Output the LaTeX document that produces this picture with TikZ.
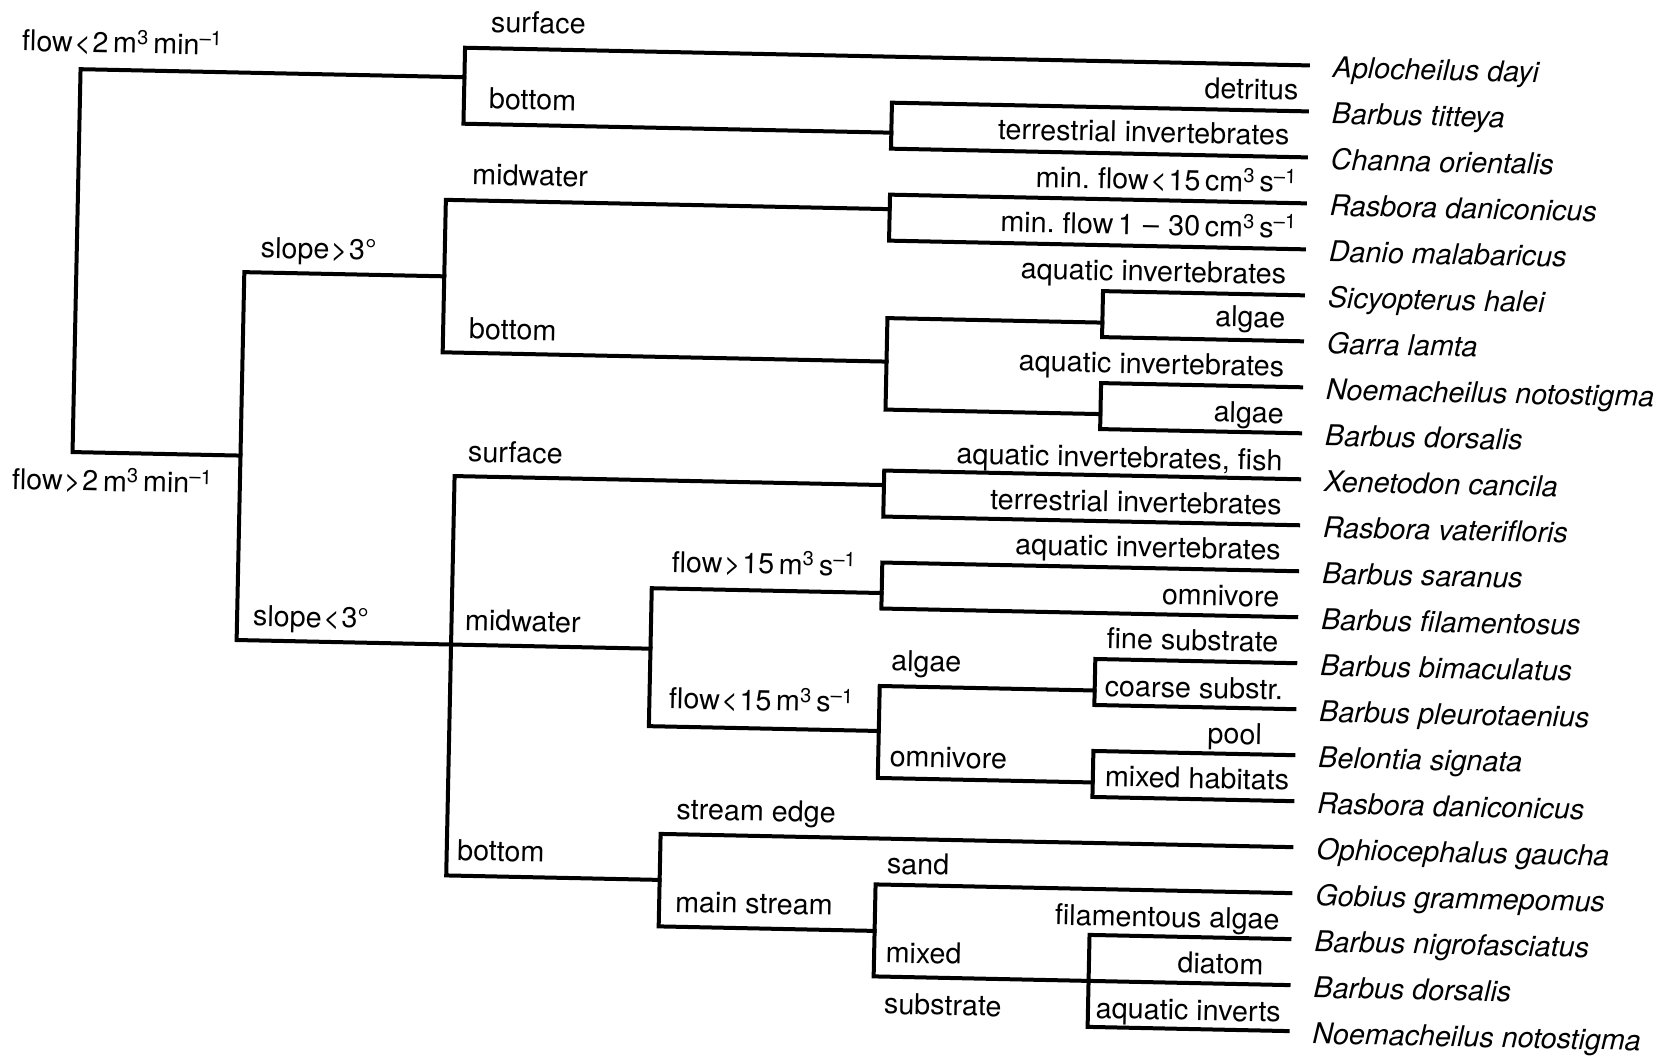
\documentclass[tikz,border=0pt]{standalone}
\usepackage{fontspec}
\setmainfont{TeX Gyre Heros}
\newcommand{\tsp}{\kern1.5pt}
\newcommand{\wsp}{\hspace{0.16em}}
\newcommand{\sps}[1]{\textsuperscript{#1}}
\tikzset{
  br/.style={line width=4pt, line cap=rect, line join=miter},
  lab/.style={font=\fontsize{28.7}{30}\selectfont, inner sep=0pt, outer sep=0pt},
  labl/.style={lab, anchor=base west},
  labr/.style={lab, anchor=base east},
  spc/.style={lab, anchor=base west, font=\fontsize{28.7}{30}\selectfont\itshape},
}
\begin{document}
\begin{tikzpicture}[x=1pt,y=-1pt]
\fill[white] (0,0) rectangle (1656,1056);
\useasboundingbox (0,0) rectangle (1656,1056);
\begin{scope}[rotate=-1.2, transform shape]
% leaf ends and species
\foreach \i/\nm in {1/Aplocheilus dayi, 2/Barbus titteya, 3/Channa orientalis, 4/Rasbora daniconicus,
  5/Danio malabaricus, 6/Sicyopterus halei, 7/Garra lamta, 8/Noemacheilus notostigma,
  9/Barbus dorsalis, 10/Xenetodon cancila, 11/Rasbora vaterifloris, 12/Barbus saranus,
  13/Barbus filamentosus, 14/Barbus bimaculatus, 15/Barbus pleurotaenius, 16/Belontia signata,
  17/Rasbora daniconicus, 18/Ophiocephalus gaucha, 19/Gobius grammepomus, 20/Barbus nigrofasciatus,
  21/Barbus dorsalis, 22/Noemacheilus notostigma}{
  \coordinate (e\i) at (1309,{38+46*(\i-1)});
  \node[spc] (s\i) at (1334,{50+46*(\i-1)}) {\nm};
}
% internal coordinates
\coordinate (R-t) at (82,67.5);   \coordinate (R-b) at (82,450.5);
\coordinate (A-j) at (466,67.5);  \coordinate (A-t) at (466,38);   \coordinate (A-b) at (466,114);
\coordinate (C-j) at (894,114);   \coordinate (C-t) at (894,84);   \coordinate (C-b) at (894,130);
\coordinate (S-j) at (250,450.5); \coordinate (S-t) at (250,267);  \coordinate (S-b) at (250,635);
\coordinate (B-j) at (450,267);   \coordinate (B-t) at (450,190.5);\coordinate (B-b) at (450,343);
\coordinate (D-j) at (894,190.5); \coordinate (D-t) at (894,176);  \coordinate (D-b) at (894,222);
\coordinate (E-j) at (894,343);   \coordinate (E-t) at (894,299.5);\coordinate (E-b) at (894,391);
\coordinate (F-j) at (1109,299.5);\coordinate (F-t) at (1109,268); \coordinate (F-b) at (1109,314);
\coordinate (G-j) at (1109,391);  \coordinate (G-t) at (1109,360); \coordinate (G-b) at (1109,406);
\coordinate (M-j) at (464.5,635); \coordinate (M-t) at (464.5,466.5); \coordinate (M-b) at (464.5,866);
\coordinate (H-j) at (894,466.5); \coordinate (H-t) at (894,452);  \coordinate (H-b) at (894,498);
\coordinate (J-j) at (664,635);   \coordinate (J-t) at (664,574.5);\coordinate (J-b) at (664,712.5);
\coordinate (K-j) at (894,574.5); \coordinate (K-t) at (894,544);  \coordinate (K-b) at (894,590);
\coordinate (N-j) at (894,712.5); \coordinate (N-t) at (894,667.5);\coordinate (N-b) at (894,759.5);
\coordinate (L-j) at (1109,667.5);\coordinate (L-t) at (1109,636); \coordinate (L-b) at (1109,682);
\coordinate (P-j) at (1109,759.5);\coordinate (P-t) at (1109,728); \coordinate (P-b) at (1109,774);
\coordinate (Q-j) at (678,866);   \coordinate (Q-t) at (678,820);  \coordinate (Q-b) at (678,912.5);
\coordinate (W-j) at (894,912.5); \coordinate (W-t) at (894,866);  \coordinate (W-b) at (894,958);
\coordinate (T-j) at (1109,958);  \coordinate (T-t) at (1109,912); \coordinate (T-b) at (1109,1004);
% branches
\draw[br] (A-j) -- (R-t) -- (R-b) -- (S-j);
\draw[br] (e1) -- (A-t) -- (A-b) -- (C-j);
\draw[br] (e2) -- (C-t) -- (C-b) -- (e3);
\draw[br] (B-j) -- (S-t) -- (S-b) -- (M-j) -- (J-j);
\draw[br] (D-j) -- (B-t) -- (B-b) -- (E-j);
\draw[br] (e4) -- (D-t) -- (D-b) -- (e5);
\draw[br] (F-j) -- (E-t) -- (E-b) -- (G-j);
\draw[br] (e6) -- (F-t) -- (F-b) -- (e7);
\draw[br] (e8) -- (G-t) -- (G-b) -- (e9);
\draw[br] (H-j) -- (M-t) -- (M-b) -- (Q-j);
\draw[br] (e10) -- (H-t) -- (H-b) -- (e11);
\draw[br] (K-j) -- (J-t) -- (J-b) -- (N-j);
\draw[br] (e12) -- (K-t) -- (K-b) -- (e13);
\draw[br] (L-j) -- (N-t) -- (N-b) -- (P-j);
\draw[br] (e14) -- (L-t) -- (L-b) -- (e15);
\draw[br] (e16) -- (P-t) -- (P-b) -- (e17);
\draw[br] (e18) -- (Q-t) -- (Q-b) -- (W-j);
\draw[br] (e19) -- (W-t) -- (W-b) -- (T-j);
\draw[br] (e20) -- (T-t) -- (T-b) -- (e22);
\draw[br] (T-j) -- (e21);
% left labels
\node[labl] (t-flow1) at (23,50.5) {flow\tsp<\tsp2\wsp m\sps{3}\wsp min\sps{–1}};
\node[labl] (t-flow2) at (22,488.8) {flow\tsp>\tsp2\wsp m\sps{3}\wsp min\sps{–1}};
\node[labl] (t-slope1) at (266,252.2) {slope\tsp>\tsp3°};
\node[labl] (t-slope2) at (266,620.5) {slope\tsp<\tsp3°};
\node[labl] (t-surf1) at (491.5,21.8) {surface};
\node[labl] (t-bot1) at (491,98.5) {bottom};
\node[labl] (t-mid1) at (476,174.5) {midwater};
\node[labl] (t-bot2) at (476,329) {bottom};
\node[labl] (t-surf2) at (477.5,452) {surface};
\node[labl] (t-mid2) at (478,620.3) {midwater};
\node[labl] (t-bot3) at (475,850.5) {bottom};
\node[labl] (t-fl15a) at (683.5,558) {flow\tsp>\tsp15\wsp m\sps{3}\wsp s\sps{–1}};
\node[labl] (t-fl15b) at (683.7,694.5) {flow\tsp<\tsp15\wsp m\sps{3}\wsp s\sps{–1}};
\node[labl] (t-edge) at (693.5,805) {stream edge};
\node[labl] (t-main) at (694,897.7) {main stream};
\node[labl] (t-alg3) at (905,652) {algae};
\node[labl] (t-omn2) at (905.4,747.8) {omnivore};
\node[labl] (t-sand) at (905,855.2) {sand};
\node[labl] (t-mixed) at (905.5,944) {mixed};
\node[labl] (t-subst) at (905,995.2) {substrate};
\node[labl] (t-coarse) at (1119,672.8) {coarse substr.};
\node[labl] (t-mixhab) at (1121,763) {mixed habitats};
\node[labl] (t-aqinv) at (1116.7,995.1) {aquatic inverts};
% right labels
\node[labr] (r-detr) at (1300,73.1) {detritus};
\node[labr] (r-terr1) at (1292,118.2) {terrestrial invertebrates};
\node[labr] (r-minf1) at (1300.3,165.6) {min.\ flow\tsp<\tsp15\wsp cm\sps{3}\wsp s\sps{–1}};
\node[labr] (r-minf2) at (1301,211) {min.\ flow\wsp 1\wsp\wsp–\wsp\wsp30\wsp cm\sps{3}\wsp s\sps{–1}};
\node[labr] (r-aq1) at (1291.7,257.3) {aquatic invertebrates};
\node[labr] (r-alg1) at (1291.7,300.8) {algae};
\node[labr] (r-aq2) at (1291.6,349.6) {aquatic invertebrates};
\node[labr] (r-alg2) at (1292.2,396.5) {algae};
\node[labr] (r-aqf) at (1292,443.7) {aquatic invertebrates, fish};
\node[labr] (r-terr2) at (1292,488.2) {terrestrial invertebrates};
\node[labr] (r-aq3) at (1292,533) {aquatic invertebrates};
\node[labr] (r-omn1) at (1291.5,580) {omnivore};
\node[labr] (r-fine) at (1291.5,625.3) {fine substrate};
\node[labr] (r-pool) at (1277,718) {pool};
\node[labr] (r-fil) at (1298.5,902.5) {filamentous algae};
\node[labr] (r-diat) at (1283.3,948) {diatom};
\end{scope}
\end{tikzpicture}
\end{document}
